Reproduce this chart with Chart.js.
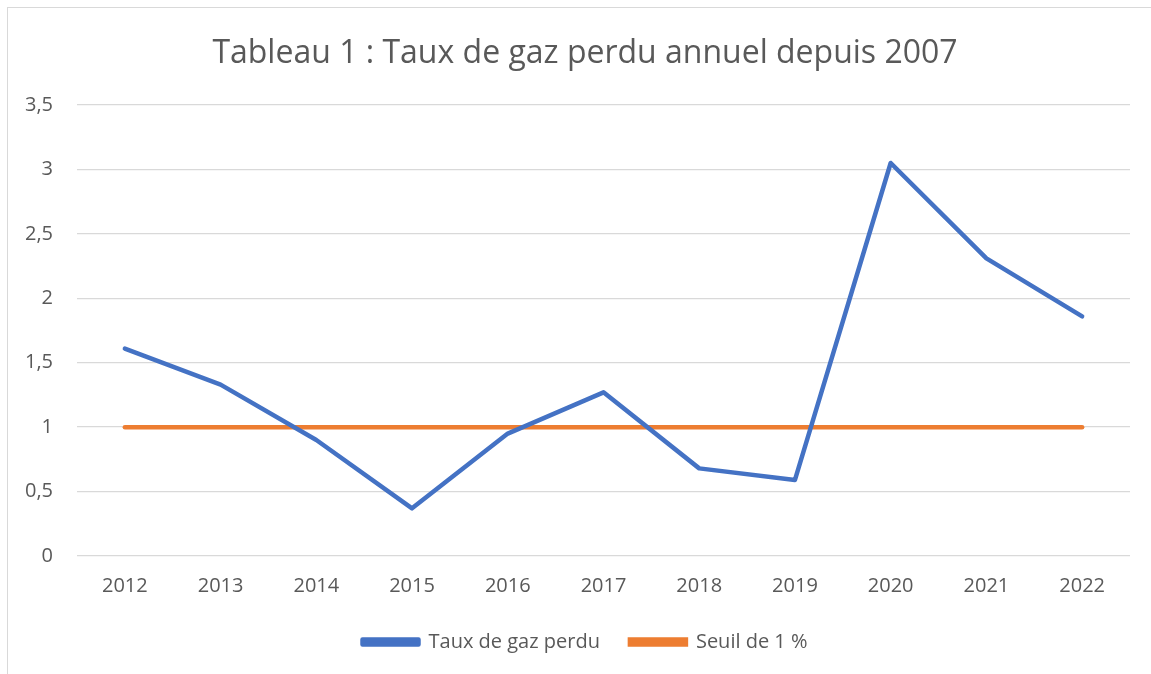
<!DOCTYPE html>
<html><head><meta charset="utf-8">
<script src="https://cdn.jsdelivr.net/npm/chart.js@4"></script>
<style>
html,body{margin:0;padding:0;width:1151px;height:674px;overflow:hidden;background:#fff;}
#frame{position:absolute;left:7px;top:7px;width:1200px;height:700px;border:1px solid #d9d9d9;box-sizing:border-box;}
#wrap{position:absolute;left:0;top:0;width:1151px;height:674px;}
</style></head>
<body>
<div id="frame"></div>
<div id="wrap"><canvas id="c"></canvas></div>
<script>
const categories = ['2012','2013','2014','2015','2016','2017','2018','2019','2020','2021','2022'];
const tauxGazPerdu = [1.61, 1.33, 0.90, 0.37, 0.95, 1.27, 0.68, 0.59, 3.05, 2.31, 1.86];
const seuil = [1, 1, 1, 1, 1, 1, 1, 1, 1, 1, 1];
const seriesNames = ['Taux de gaz perdu', 'Seuil de 1 %'];
const titleText = 'Tableau 1 : Taux de gaz perdu annuel depuis 2007';

const FONT = "'Open Sans', sans-serif";
const TXT = '#595959';
new Chart(document.getElementById('c'), {
  type: 'line',
  data: {
    labels: categories,
    datasets: [
      {label: seriesNames[0], data: tauxGazPerdu, borderColor: '#4472C4', backgroundColor: '#4472C4', borderWidth: 4.5, pointRadius: 0, tension: 0, borderCapStyle: 'round', borderJoinStyle: 'round'},
      {label: seriesNames[1], data: seuil, borderColor: '#ED7D31', backgroundColor: '#ED7D31', borderWidth: 4.5, pointRadius: 0, tension: 0, borderCapStyle: 'round'}
    ]
  },
  options: {
    responsive: true, maintainAspectRatio: false, animation: false,
    layout: {padding: {left: 40, right: 21, top: 35, bottom: 12}},
    plugins: {
      title: {display: true, text: titleText, color: TXT, font: {family: FONT, size: 32, weight: 'normal'}, padding: {top: 0, bottom: 31.6}},
      legend: {position: 'bottom', labels: {color: TXT, font: {family: FONT, size: 20}, boxWidth: 56, boxHeight: 5, padding: 30}},
      tooltip: {enabled: false}
    },
    scales: {
      x: {
        offset: true,
        grid: {display: false}, border: {display: false},
        ticks: {color: TXT, font: {family: FONT, size: 20}, padding: 10},
        afterFit: s => { s.height = 46; }
      },
      y: {
        min: 0, max: 3.5,
        grid: {color: '#d9d9d9', lineWidth: 1.3, drawTicks: false}, border: {display: false},
        ticks: {stepSize: 0.5, color: TXT, font: {family: FONT, size: 20}, padding: 24,
          callback: v => String(v).replace('.', ',')},
        afterFit: s => { s.width = 37; s._computeLabelArea = () => undefined; }
      }
    }
  }
});
</script>
</body></html>
